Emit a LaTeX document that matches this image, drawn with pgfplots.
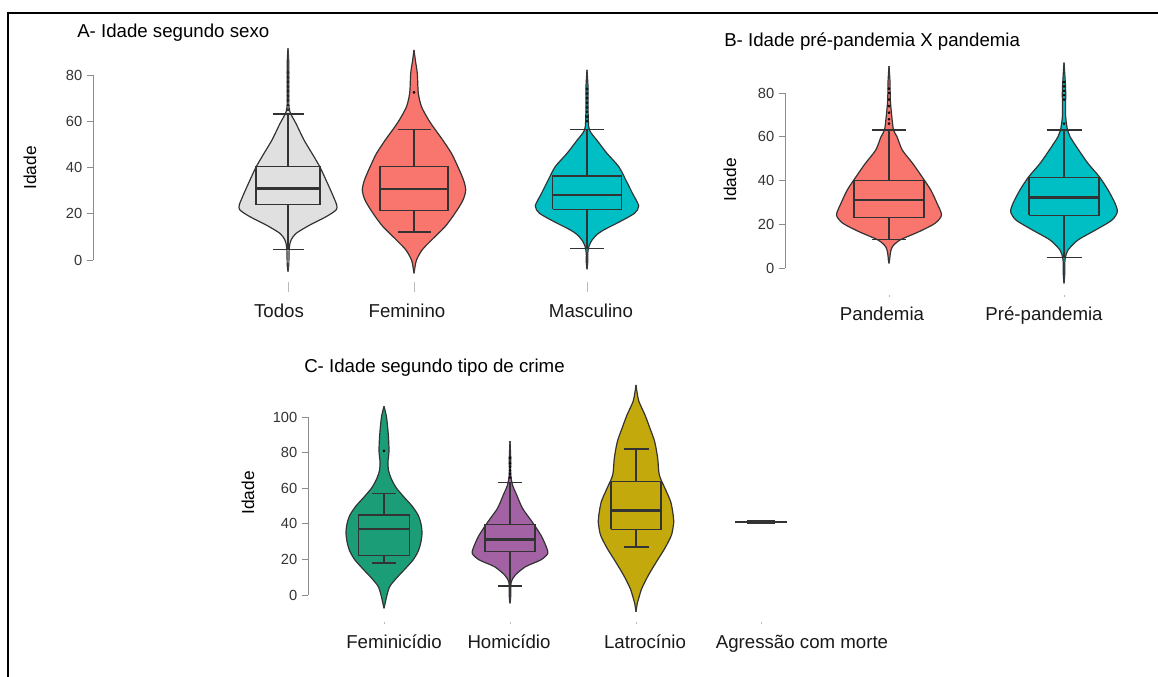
\documentclass[border=0pt]{standalone}
\usepackage{pgfplots}
\pgfplotsset{compat=1.18}
\usepackage{pgfplotstable}
\usepackage{fontspec}
\setmainfont{Liberation Sans}

\definecolor{cgray}{HTML}{E0E0E0}
\definecolor{cred}{HTML}{F8766D}
\definecolor{cteal}{HTML}{00BFC4}
\definecolor{cgreen}{HTML}{1B9E77}
\definecolor{cpurp}{HTML}{A262A4}
\definecolor{cyell}{HTML}{C3A90B}
\definecolor{cline}{HTML}{333333}
\definecolor{caxis}{HTML}{8C8C8C}

% half-width profiles of the violins (y = Idade, w = half width in px)
\pgfplotstableread{
y w
-5 0
-2 0.8
3 1
6 1.5
8.6 3
11.5 8
15.1 21.7
18.7 38
21.6 48
23.8 48.7
28.8 44
34.6 38
40.4 31.7
46.1 24
51.9 16
59 8
63 3
66 1
75 0.8
85 0.8
91.5 0
}\vTodos
\pgfplotstableread{
y w
-5.8 0
-3 1
0 2.5
4.3 8
8.6 17.5
14.4 31
20.2 41
25.9 49
30.3 51.7
34.6 49.5
40.4 43.8
46.1 37.5
51.9 28.7
56.5 21
60.5 14.7
66.3 7.5
72.2 4.3
80.7 3.3
86 1.5
90.8 0
}\vFem
\pgfplotstableread{
y w
-4 0
-1 0.7
2.9 0.7
6 2
8.6 5
11 10
13 16.7
16.6 33
20.2 47.5
23.4 51.7
28.8 45.5
34.6 38.8
40.4 31.7
46.1 20
51.9 9.7
55 4
57.7 1.7
66 1
75 1
82.2 0
}\vMasc
\pgfplotstableread{
y w
2.1 0
4 0.7
6.7 1.3
9.7 3.3
12.8 11
16.6 30
20.4 46
24.2 52.5
29.6 48
35.7 41.7
41.7 33
47.8 23.7
53.9 13.3
60 8
63.1 4.5
69.2 2.8
76.8 1.3
85 1
92.3 0
}\vPand
\pgfplotstableread{
y w
-7 0
-3 0.7
2.1 0.7
5 1.5
8.2 4
12.8 14
17.4 31.7
21.9 48
25.7 53.3
29.6 51
35.7 44
41.7 35.3
47.8 24
53.9 14.7
60 6
63 3.5
70 1.5
80 1.7
87 1
93.9 0
}\vPre
\pgfplotstableread{
y w
-7.5 0
-5 1
0 3
5 6
10 13.3
15 21.7
20 29.5
25 34.5
30 37
35 38
40 37
45 34
50 28
55 20
60 12.5
65 7.5
70 4.5
75 4
81 5
90 4.3
100 2.5
106 0
}\vFemi
\pgfplotstableread{
y w
-4.7 0
-1 0.7
3 0.7
7.5 1.3
11.2 5.3
15.9 15.5
19.7 30.8
23.4 37.8
28.1 35.5
33.7 30.8
41.2 22
48.7 12.5
56.2 6.7
61.8 2.5
68 0.7
77 0.7
86.5 0
}\vHomi
\pgfplotstableread{
y w
-9.4 0
-5 1.2
-1.9 2.7
3.7 5.8
11.2 12.5
18.7 20.5
26.2 28.8
33.7 35.5
41.2 37.8
44.9 37.2
52.4 34.7
59.9 29
67.4 23.3
76.8 21.7
86.1 18.7
93.6 14
101.1 9
108.6 3
114 1
118 0
}\vLatro

% violin: #1 centre (px), #2 fill colour, #3 profile table
\newcommand\violin[3]{%
  \addplot[vio, fill=#2] table[x expr={#1+\thisrow{w}}, y=y] {#3};
  \addplot[vio, fill=#2] table[x expr={#1-\thisrow{w}}, y=y] {#3};
}
% box: #1 centre, #2 half box width, #3 half cap width, #4 lower whisker,
%      #5 Q1, #6 median, #7 Q3, #8 upper whisker, #9 fill colour
\newcommand\bbox[9]{%
  \pgfmathsetmacro\bL{#1-#2}\pgfmathsetmacro\bR{#1+#2}%
  \pgfmathsetmacro\cL{#1-#3}\pgfmathsetmacro\cR{#1+#3}%
  \addplot[bxl] coordinates {(#1,#4) (#1,#5)};
  \addplot[bxl] coordinates {(#1,#7) (#1,#8)};
  \addplot[bxl, line width=1.15pt] coordinates {(\cL,#4) (\cR,#4)};
  \addplot[bxl, line width=1.15pt] coordinates {(\cL,#8) (\cR,#8)};
  \addplot[bxl, fill=#9] coordinates {(\bL,#5) (\bR,#5) (\bR,#7) (\bL,#7) (\bL,#5)};
  \addplot[bxl, line width=1.9pt, line cap=butt] coordinates {(\bL,#6) (\bR,#6)};
}

\pgfplotsset{
  vio/.style={draw=cline, line width=0.9pt, smooth, tension=0.45, mark=none},
  bxl/.style={draw=cline, line width=1pt, mark=none, line join=miter},
  outl/.style={only marks, mark=*, mark size=0.8pt, mark options={fill=cline, draw=none}},
  panel/.style={
    scale only axis, clip=false, disabledatascaling,
    axis lines*=left,
    axis line style={draw=none},
    tick align=outside,
    major tick length=4.5pt,
    ytick style={draw=caxis, line width=0.7pt},
    xtick style={draw=none},
    yticklabel style={font=\fontsize{11}{13}\selectfont, text=black!80},
    xticklabel style={font=\fontsize{14}{16}\selectfont, text=black!90},
    /pgf/number format/assume math mode=true,
    extra x tick labels={},
    extra x tick style={xtick style={draw=caxis!60, line width=0.7pt}},
  },
}

\begin{document}
\begin{tikzpicture}
\useasboundingbox (0,0) rectangle (868.5pt,507.75pt);
\draw[line width=1.5pt] (6pt,0) -- (6pt,498pt) -- (868.5pt,498pt);

% ---------------- Panel A ----------------
\node[anchor=west, inner sep=0pt, font=\fontsize{14}{16}\selectfont] at (57.75pt,483pt) {A- Idade segundo sexo};
\node[rotate=90, font=\fontsize{13}{15}\selectfont] at (22.5pt,381.75pt) {Idade};
\begin{axis}[panel,
  at={(69.75pt,296.25pt)}, anchor=south west,
  width=440.25pt, height=181.26pt,
  xmin=93, xmax=680, ymin=-9.51, ymax=95,
  ytick={0,20,40,60,80},
  xtick={279,407,591}, xticklabels={Todos,Feminino,Masculino},
  xticklabel style={yshift=-8.5pt},
  extra x ticks={288,414,587},
  extra x tick style={major tick length=7.5pt},
]
\draw[caxis, line width=0.7pt] (axis cs:93,0) -- (axis cs:93,80);
\violin{288}{cgray}{\vTodos}
\violin{414}{cred}{\vFem}
\violin{587}{cteal}{\vMasc}
\bbox{288}{32}{15.5}{4.6}{23.9}{30.9}{40.3}{63.1}{cgray}
\bbox{414}{34}{16.5}{12.1}{21.3}{30.7}{40.4}{56.5}{cred}
\bbox{587}{34.5}{17}{5}{21.9}{28.1}{36.3}{56.5}{cteal}
\addplot[outl, mark options={fill=gray!60}] coordinates {(288,65) (288,67) (288,69) (288,71) (288,73) (288,75) (288,77) (288,79) (288,81)};
\addplot[outl] coordinates {(414,72.5)};
\addplot[outl, mark options={fill=cteal!60!black}] coordinates {(587,60) (587,62) (587,64) (587,66) (587,68) (587,70) (587,72) (587,74)};
\end{axis}

% ---------------- Panel B ----------------
\node[anchor=west, inner sep=0pt, font=\fontsize{14}{16}\selectfont] at (543pt,476.25pt) {B- Idade pré-pandemia X pandemia};
\node[rotate=90, font=\fontsize{13}{15}\selectfont] at (547.5pt,372.75pt) {Idade};
\begin{axis}[panel,
  at={(588.75pt,286.5pt)}, anchor=south west,
  width=273.75pt, height=177.75pt,
  xmin=785, xmax=1150, ymin=-12.34, ymax=96,
  ytick={0,20,40,60,80},
  xtick={882,1044}, xticklabels={Pandemia,Pré-pandemia},
  xticklabel style={yshift=-1pt},
  extra x ticks={889,1064},
  extra x tick style={major tick length=1.2pt},
]
\draw[caxis, line width=0.7pt] (axis cs:785,0) -- (axis cs:785,80);
\violin{889}{cred}{\vPand}
\violin{1064}{cteal}{\vPre}
\bbox{889}{35}{17}{13.1}{23}{31.1}{39.9}{63.1}{cred}
\bbox{1064}{35}{17.5}{4.9}{24.1}{32.3}{41.3}{63.1}{cteal}
\addplot[outl] coordinates {(889,66) (889,68) (889,71) (889,74) (889,77) (889,80) (889,82)};
\addplot[outl] coordinates {(1064,66) (1064,77) (1064,79) (1064,81) (1064,83) (1064,85)};
\end{axis}

% ---------------- Panel C ----------------
\node[anchor=west, inner sep=0pt, font=\fontsize{14}{16}\selectfont] at (228pt,231.75pt) {C- Idade segundo tipo de crime};
\node[rotate=90, font=\fontsize{13}{15}\selectfont] at (186pt,138pt) {Idade};
\begin{axis}[panel,
  at={(231pt,41.25pt)}, anchor=south west,
  width=444pt, height=180.45pt,
  xmin=308, xmax=900, ymin=-15.17, ymax=120,
  ytick={0,20,40,60,80,100},
  xtick={394,509,645,802}, xticklabels={Feminicídio,Homicídio,Latrocínio,Agressão com morte},
  xticklabel style={yshift=-1.75pt},
  extra x ticks={384,510,636,761},
  extra x tick style={major tick length=1.2pt},
]
\draw[caxis, line width=0.7pt] (axis cs:308,0) -- (axis cs:308,100);
\violin{384}{cgreen}{\vFemi}
\violin{510}{cpurp}{\vHomi}
\violin{636}{cyell}{\vLatro}
\bbox{384}{25.5}{12}{18}{22}{37}{45}{57}{cgreen}
\bbox{510}{25}{12}{5.1}{24.3}{31.1}{39.7}{63.1}{cpurp}
\bbox{636}{25}{12.5}{27}{36.9}{47.6}{63.7}{82}{cyell}
\addplot[outl] coordinates {(384,81)};
\addplot[outl] coordinates {(510,66) (510,68) (510,70) (510,72) (510,74) (510,77)};
% Agressão com morte: a single value (41)
\addplot[bxl, line width=1.3pt] coordinates {(735,41) (787,41)};
\addplot[bxl, line width=3pt, line cap=butt] coordinates {(747,41) (775,41)};
\end{axis}
\end{tikzpicture}
\end{document}
